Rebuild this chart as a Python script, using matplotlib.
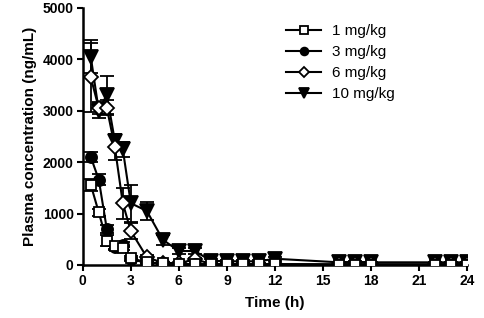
import matplotlib
matplotlib.use("Agg")
import matplotlib.pyplot as plt
import numpy as np

plt.rcParams['font.family'] = ['Liberation Sans', 'DejaVu Sans']

time_h = [0.5, 1, 1.5, 2, 2.5, 3, 4, 5, 6, 7, 8, 9, 10, 11, 12, 16, 17, 18, 22, 23, 24]

conc_1 = [1560, 1020, 470, 360, 330, 130, 50, 30, 20, 15, 12, 10, 10, 10, 10, 5, 5, 5, 5, 5, 5]
sd_1 = [120, 60, 110, 60, 40, 40, 20, 10, 10, 5, 5, 5, 5, 5, 5, 2, 2, 2, 2, 2, 2]

conc_3 = [2100, 1660, 700, 350, 390, 110, 40, 30, 20, 15, 12, 10, 10, 10, 10, 5, 5, 5, 5, 5, 5]
sd_3 = [100, 110, 80, 60, 50, 30, 15, 10, 10, 5, 5, 5, 5, 5, 5, 2, 2, 2, 2, 2, 2]

conc_6 = [3650, 3050, 3060, 2300, 1200, 660, 150, 40, 30, 110, 20, 15, 15, 15, 15, 10, 10, 10, 10, 10, 10]
sd_6 = [670, 120, 150, 250, 300, 150, 40, 15, 10, 30, 5, 5, 5, 5, 5, 3, 3, 3, 3, 3, 3]

conc_10 = [4050, 3000, 3310, 2420, 2250, 1200, 1050, 490, 270, 270, 80, 70, 70, 70, 120, 50, 60, 50, 50, 50, 50]
sd_10 = [320, 150, 370, 120, 150, 360, 180, 100, 60, 60, 25, 25, 25, 25, 40, 15, 20, 15, 15, 15, 15]

labels = ["1 mg/kg", "3 mg/kg", "6 mg/kg", "10 mg/kg"]

fig = plt.figure(figsize=(4.84, 3.18), dpi=100)
ax = fig.add_axes([0.171, 0.167, 0.794, 0.808])

styles = [
    dict(marker="s", mfc="white", ms=7.5),
    dict(marker="o", mfc="black", ms=8),
    dict(marker="D", mfc="white", ms=7.5),
    dict(marker="v", mfc="black", ms=10),
]
series = [(conc_1, sd_1), (conc_3, sd_3), (conc_6, sd_6), (conc_10, sd_10)]

for i, ((c, s), st, lab) in enumerate(zip(series, styles, labels)):
    ax.errorbar(time_h, c, yerr=s, color="black", lw=1.5, mec="black",
                mew=1.3, capsize=5, capthick=1.3, elinewidth=1.3,
                label=lab, zorder=10 - i, **st)

ax.set_xlim(0, 24)
ax.set_ylim(0, 5000)
ax.set_xticks(np.arange(0, 25, 3))
ax.set_yticks(np.arange(0, 5001, 1000))
for side in ["top", "right"]:
    ax.spines[side].set_visible(False)
for side in ["left", "bottom"]:
    ax.spines[side].set_linewidth(1.8)
ax.tick_params(direction="out", width=1.5, length=4, labelsize=10, pad=2.5)
for lbl in ax.get_xticklabels() + ax.get_yticklabels():
    lbl.set_fontweight("bold")

ax.set_xlabel("Time (h)", fontsize=11, fontweight="bold", labelpad=6)
ax.set_ylabel("Plasma concentration (ng/mL)", fontsize=11, fontweight="bold", labelpad=4)

handles, labs = ax.get_legend_handles_labels()
handles = [h[0] for h in handles]
ax.legend(handles, labs, loc="upper left", bbox_to_anchor=(0.494, 0.99),
          frameon=False, fontsize=11, handlelength=2.3, handletextpad=0.7,
          labelspacing=0.45, markerscale=0.7)

fig.savefig("out.png", dpi=100)
